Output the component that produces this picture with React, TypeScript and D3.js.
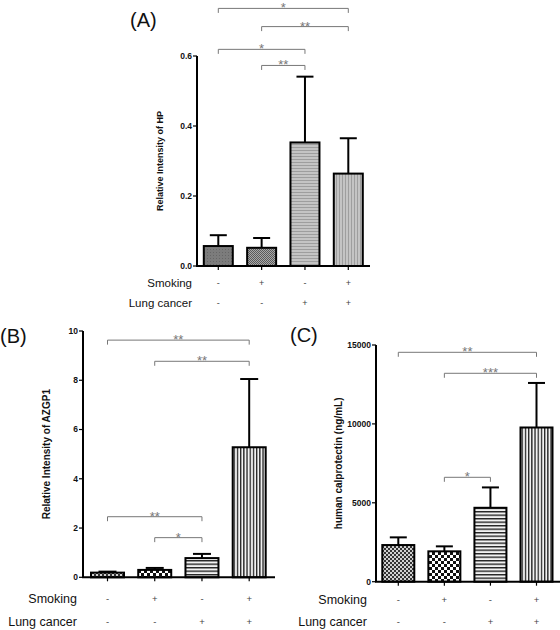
import React from "react";
import * as d3 from "d3";

// ---------- data ----------
const groups = ["g1", "g2", "g3", "g4"];
const smokingSigns = ["-", "+", "-", "+"];
const lungCancerSigns = ["-", "-", "+", "+"];

const hpMean = [0.057, 0.052, 0.353, 0.264];
const hpSem = [0.031, 0.028, 0.188, 0.101];
const hpTicks = [0, 0.2, 0.4, 0.6];
const hpComparisons = [
  { a: 0, b: 3, label: "*", level: 0.736 },
  { a: 1, b: 3, label: "**", level: 0.684 },
  { a: 0, b: 2, label: "*", level: 0.619 },
  { a: 1, b: 2, label: "**", level: 0.573 },
];

const azgpMean = [0.19, 0.3, 0.78, 5.28];
const azgpSem = [0.04, 0.08, 0.17, 2.77];
const azgpTicks = [0, 2, 4, 6, 8, 10];
const azgpComparisons = [
  { a: 0, b: 3, label: "**", level: 9.63 },
  { a: 1, b: 3, label: "**", level: 8.77 },
  { a: 0, b: 2, label: "**", level: 2.46 },
  { a: 1, b: 2, label: "*", level: 1.61 },
];

const calMean = [2323, 1924, 4684, 9772];
const calSem = [487, 316, 1291, 2823];
const calTicks = [0, 5000, 10000, 15000];
const calComparisons = [
  { a: 0, b: 3, label: "**", level: 14537 },
  { a: 1, b: 3, label: "***", level: 13207 },
  { a: 1, b: 2, label: "*", level: 6616 },
];

const FONT = "'Liberation Sans', Arial, Helvetica, sans-serif";

type Comp = { a: number; b: number; label: string; level: number };

type PanelProps = {
  id: string;
  letter: string;
  letterX: number;
  letterY: number;
  yLabel: string;
  yLabelX: number;
  yLabelSize: number;
  means: number[];
  sems: number[];
  ticks: number[];
  tickFmt: (v: number) => string;
  tickSize: number;
  yDomain: [number, number];
  yRange: [number, number];
  axisX: number;
  axisEnd: number;
  xRange: [number, number];
  barW: number;
  capW: number;
  comps: Comp[];
  fills: string[];
  rowLabelX: number;
  rowY: [number, number];
  rowSize: number;
  signSize: number;
};

function Panel(p: PanelProps) {
  const y = d3.scaleLinear().domain(p.yDomain).range(p.yRange);
  const x = d3.scalePoint<string>().domain(groups).range(p.xRange);
  const y0 = y(0);
  const yMid = (p.yRange[0] + p.yRange[1]) / 2;
  return (
    <g fontFamily={FONT}>
      <text x={p.letterX} y={p.letterY} fontSize={20} fill="#111">
        {p.letter}
      </text>
      {/* y axis */}
      <line x1={p.axisX} x2={p.axisX} y1={y(p.yDomain[1])} y2={y0} stroke="#000" strokeWidth={2} />
      {p.ticks.map((t) => (
        <g key={t}>
          <line x1={p.axisX - 4} x2={p.axisX} y1={y(t)} y2={y(t)} stroke="#000" strokeWidth={1.2} />
          <text
            x={p.axisX - 5}
            y={y(t)}
            dy="0.35em"
            textAnchor="end"
            fontSize={p.tickSize}
            fontWeight="bold"
            fill="#111"
          >
            {p.tickFmt(t)}
          </text>
        </g>
      ))}
      <text
        transform={`translate(${p.yLabelX},${yMid}) rotate(-90)`}
        dy="0.35em"
        textAnchor="middle"
        fontSize={p.yLabelSize}
        fontWeight="bold"
        fill="#111"
      >
        {p.yLabel}
      </text>
      {/* bars */}
      {groups.map((g, i) => {
        const cx = x(g) as number;
        const top = y(p.means[i]);
        const errTop = y(p.means[i] + p.sems[i]);
        return (
          <g key={g}>
            <line x1={cx} x2={cx} y1={top} y2={errTop} stroke="#000" strokeWidth={2} />
            <line x1={cx - p.capW / 2} x2={cx + p.capW / 2} y1={errTop} y2={errTop} stroke="#000" strokeWidth={2} />
            <rect
              x={cx - p.barW / 2}
              y={top}
              width={p.barW}
              height={y0 - top}
              fill={`url(#${p.id}-${p.fills[i]})`}
              stroke="#000"
              strokeWidth={2}
            />
            <line x1={cx} x2={cx} y1={y0} y2={y0 + 4} stroke="#000" strokeWidth={1.2} />
          </g>
        );
      })}
      {/* x axis */}
      <line x1={p.axisX - 1} x2={p.axisEnd} y1={y0} y2={y0} stroke="#000" strokeWidth={2} />
      {/* comparisons */}
      {p.comps.map((c, i) => {
        const xa = x(groups[c.a]) as number;
        const xb = x(groups[c.b]) as number;
        const yy = y(c.level);
        return (
          <g key={i}>
            <path
              d={`M${xa},${yy + 4.5}V${yy}H${xb}V${yy + 4.5}`}
              fill="none"
              stroke="#777"
              strokeWidth={1}
            />
            <text
              x={(xa + xb) / 2}
              y={yy + 4}
              textAnchor="middle"
              fontSize={13}
              fill="#777"
            >
              {c.label}
            </text>
          </g>
        );
      })}
      {/* rows */}
      <text x={p.rowLabelX} y={p.rowY[0]} dy="0.35em" textAnchor="end" fontSize={p.rowSize} fill="#111">
        Smoking
      </text>
      <text x={p.rowLabelX} y={p.rowY[1]} dy="0.35em" textAnchor="end" fontSize={p.rowSize} fill="#111">
        Lung cancer
      </text>
      {groups.map((g, i) => (
        <g key={g}>
          <text x={x(g) as number} y={p.rowY[0]} dy="0.35em" textAnchor="middle" fontSize={p.signSize} fill="#444">
            {smokingSigns[i]}
          </text>
          <text x={x(g) as number} y={p.rowY[1]} dy="0.35em" textAnchor="middle" fontSize={p.signSize} fill="#444">
            {lungCancerSigns[i]}
          </text>
        </g>
      ))}
    </g>
  );
}

function Patterns({ id, dark }: { id: string; dark: boolean }) {
  if (!dark) {
    return (
      <>
        <pattern id={`${id}-p1`} width={3} height={3} patternUnits="userSpaceOnUse">
          <rect width={3} height={3} fill="#7c7c7c" />
          <rect width={1} height={1} fill="#666" />
        </pattern>
        <pattern id={`${id}-p2`} width={2} height={2} patternUnits="userSpaceOnUse">
          <rect width={2} height={2} fill="#a8a8a8" />
          <rect width={1} height={1} fill="#5a5a5a" />
          <rect x={1} y={1} width={1} height={1} fill="#5a5a5a" />
        </pattern>
        <pattern id={`${id}-p3`} width={3} height={3} patternUnits="userSpaceOnUse">
          <rect width={3} height={3} fill="#c4c4c4" />
          <rect width={3} height={1} fill="#9e9e9e" />
        </pattern>
        <pattern id={`${id}-p4`} width={3} height={3} patternUnits="userSpaceOnUse">
          <rect width={3} height={3} fill="#c4c4c4" />
          <rect width={1} height={3} fill="#9e9e9e" />
        </pattern>
      </>
    );
  }
  return (
    <>
      <pattern id={`${id}-p1`} width={4} height={4} patternUnits="userSpaceOnUse">
        <rect width={4} height={4} fill="#d0d0d0" />
        <rect width={2} height={2} fill="#333" />
        <rect x={2} y={2} width={2} height={2} fill="#333" />
      </pattern>
      <pattern id={`${id}-p2`} width={6} height={6} patternUnits="userSpaceOnUse">
        <rect width={6} height={6} fill="#fff" />
        <rect width={3} height={3} fill="#111" />
        <rect x={3} y={3} width={3} height={3} fill="#111" />
      </pattern>
      <pattern id={`${id}-p3`} width={3.5} height={3.5} patternUnits="userSpaceOnUse">
        <rect width={3.5} height={3.5} fill="#f2f2f2" />
        <rect width={3.5} height={1.4} fill="#222" />
      </pattern>
      <pattern id={`${id}-p4`} width={3.2} height={3.2} patternUnits="userSpaceOnUse">
        <rect width={3.2} height={3.2} fill="#f2f2f2" />
        <rect width={1.3} height={3.2} fill="#222" />
      </pattern>
    </>
  );
}

export default function App() {
  const fills = ["p1", "p2", "p3", "p4"];
  return (
    <svg
      width={560}
      height={630}
      style={{ position: "absolute", left: 0, top: 0, background: "#fff" }}
    >
      <defs>
        <Patterns id="A" dark={false} />
        <Patterns id="B" dark={true} />
        <Patterns id="C" dark={true} />
      </defs>
      <rect width={560} height={630} fill="#fff" />
      <Panel
        id="A"
        letter="(A)"
        letterX={130}
        letterY={27}
        yLabel="Relative Intensity of HP"
        yLabelX={160}
        yLabelSize={9}
        means={hpMean}
        sems={hpSem}
        ticks={hpTicks}
        tickFmt={d3.format(".1f")}
        tickSize={8.5}
        yDomain={[0, 0.6]}
        yRange={[266, 56]}
        axisX={197}
        axisEnd={370}
        xRange={[218.3, 348.3]}
        barW={29}
        capW={17}
        comps={hpComparisons}
        fills={fills}
        rowLabelX={192}
        rowY={[283, 303]}
        rowSize={11.5}
        signSize={9}
      />
      <Panel
        id="B"
        letter="(B)"
        letterX={0}
        letterY={343}
        yLabel="Relative Intensity of AZGP1"
        yLabelX={46}
        yLabelSize={10}
        means={azgpMean}
        sems={azgpSem}
        ticks={azgpTicks}
        tickFmt={d3.format("d")}
        tickSize={8.5}
        yDomain={[0, 10]}
        yRange={[577.3, 331]}
        axisX={83}
        axisEnd={275}
        xRange={[107.5, 249.2]}
        barW={33}
        capW={18}
        comps={azgpComparisons}
        fills={fills}
        rowLabelX={77}
        rowY={[599, 622]}
        rowSize={12.5}
        signSize={9.5}
      />
      <Panel
        id="C"
        letter="(C)"
        letterX={290}
        letterY={342}
        yLabel="human calprotectin (ng/mL)"
        yLabelX={338}
        yLabelSize={10}
        means={calMean}
        sems={calSem}
        ticks={calTicks}
        tickFmt={d3.format("d")}
        tickSize={8.5}
        yDomain={[0, 15000]}
        yRange={[581.7, 345]}
        axisX={376}
        axisEnd={560}
        xRange={[398.3, 536.5]}
        barW={32}
        capW={17}
        comps={calComparisons}
        fills={fills}
        rowLabelX={367}
        rowY={[600, 622]}
        rowSize={12.5}
        signSize={9.5}
      />
    </svg>
  );
}
